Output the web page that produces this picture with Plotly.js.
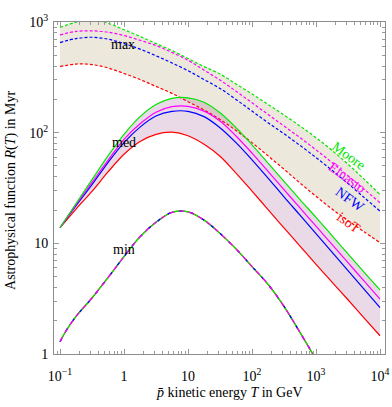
<!DOCTYPE html>
<html>
<head>
<meta charset="utf-8">
<script src="https://cdn.plot.ly/plotly-3.0.1.min.js"></script>
<style>html,body{margin:0;padding:0;background:#fff;}#chart{width:392px;height:407px;}</style>
</head>
<body>
<div id="chart"></div>
<script>
// kinetic energy grid (GeV)
const energy = [0.1, 0.178, 0.316, 0.562, 1, 1.78, 3.16, 5.62, 10, 17.8, 31.6, 56.2, 100, 178, 316, 562, 1000, 1778, 3162, 5623, 10000];
// log10 of R(T) in Myr
// "max" propagation set
const mooreMaxLog   = [2.952, 2.998, 3.025, 2.990, 2.930, 2.870, 2.805, 2.742, 2.670, 2.597, 2.530, 2.440, 2.350, 2.255, 2.160, 2.060, 1.955, 1.840, 1.715, 1.580, 1.441];
const einastoMaxLog = [2.883, 2.915, 2.920, 2.908, 2.878, 2.835, 2.787, 2.725, 2.655, 2.565, 2.475, 2.375, 2.270, 2.165, 2.060, 1.955, 1.845, 1.730, 1.610, 1.490, 1.367];
const nfwMaxLog     = [2.814, 2.850, 2.862, 2.845, 2.805, 2.755, 2.695, 2.630, 2.560, 2.480, 2.400, 2.300, 2.195, 2.090, 1.990, 1.885, 1.775, 1.660, 1.540, 1.415, 1.291];
const isoTMaxLog    = [2.597, 2.620, 2.615, 2.585, 2.535, 2.480, 2.418, 2.355, 2.280, 2.205, 2.120, 2.020, 1.910, 1.790, 1.670, 1.545, 1.425, 1.310, 1.205, 1.105, 1.006];
// "med" propagation set
const mooreMedLog   = [1.141, 1.360, 1.575, 1.790, 1.985, 2.145, 2.255, 2.310, 2.315, 2.275, 2.180, 2.045, 1.890, 1.725, 1.560, 1.395, 1.235, 1.070, 0.905, 0.740, 0.579];
const einastoMedLog = [1.141, 1.350, 1.550, 1.750, 1.940, 2.080, 2.185, 2.235, 2.238, 2.195, 2.105, 1.970, 1.815, 1.650, 1.485, 1.320, 1.155, 0.990, 0.825, 0.660, 0.495];
const nfwMedLog     = [1.141, 1.340, 1.530, 1.730, 1.910, 2.050, 2.150, 2.192, 2.193, 2.145, 2.045, 1.910, 1.755, 1.590, 1.420, 1.255, 1.088, 0.920, 0.753, 0.587, 0.420];
const isoTMedLog    = [1.141, 1.310, 1.470, 1.645, 1.805, 1.920, 1.985, 2.004, 1.972, 1.895, 1.787, 1.635, 1.472, 1.305, 1.140, 0.975, 0.810, 0.650, 0.490, 0.327, 0.165];
// "min" propagation set (all halo profiles coincide)
const energyMin = [0.1, 0.126, 0.178, 0.316, 0.562, 1, 1.78, 3.16, 5.62, 10, 17.8, 31.6, 56.2, 100, 178, 316, 562, 1000];
const allMinLog = [0.111, 0.215, 0.340, 0.506, 0.690, 0.880, 1.060, 1.190, 1.280, 1.285, 1.210, 1.090, 0.950, 0.790, 0.630, 0.430, 0.195, -0.050];

const profiles = ["Moore", "Einasto", "NFW", "isoT"];
const xTickVals = [0.1, 1, 10, 100, 1000, 10000];
const xTickText = ["10<sup>\u22121</sup>", "1", "10", "10<sup>2</sup>", "10<sup>3</sup>", "10<sup>4</sup>"];
const yTickVals = [1, 10, 100, 1000];
const yTickText = ["1", "10", "10<sup>2</sup>", "10<sup>3</sup>"];

const toMyr = arr => arr.map(v => Math.pow(10, v));
const colors = {Moore: "#00e600", Einasto: "#ff00ff", NFW: "#0000ff", isoT: "#ff0000"};
const maxSets = {Moore: toMyr(mooreMaxLog), Einasto: toMyr(einastoMaxLog), NFW: toMyr(nfwMaxLog), isoT: toMyr(isoTMaxLog)};
const medSets = {Moore: toMyr(mooreMedLog), Einasto: toMyr(einastoMedLog), NFW: toMyr(nfwMedLog), isoT: toMyr(isoTMedLog)};
const allMin = toMyr(allMinLog);

const minor = [];
[0.01, 0.1, 1, 10, 100, 1000, 10000].forEach(d => { for (let k = 2; k <= 9; k++) minor.push(d * k); });

const SERIF = "Liberation Serif";
const SP = {shape: "spline", smoothing: 1};
const traces = [];
// bands
traces.push({x: energy, y: maxSets.isoT, mode: "lines", line: Object.assign({width: 0}, SP), hoverinfo: "skip"});
traces.push({x: energy, y: maxSets.Moore, mode: "lines", fill: "tonexty", fillcolor: "rgba(160,140,80,0.2)", line: Object.assign({width: 0}, SP), hoverinfo: "skip"});
traces.push({x: energy, y: medSets.isoT, mode: "lines", line: Object.assign({width: 0}, SP), hoverinfo: "skip"});
traces.push({x: energy, y: medSets.Moore, mode: "lines", fill: "tonexty", fillcolor: "rgba(140,50,120,0.18)", line: Object.assign({width: 0}, SP), hoverinfo: "skip"});
// max dashed lines
profiles.slice().reverse().forEach(p => {
  traces.push({x: energy, y: maxSets[p], mode: "lines", name: p + " max",
    line: Object.assign({color: colors[p], width: 1.2, dash: "3px,2px"}, SP)});
});
// med solid lines
profiles.slice().reverse().forEach(p => {
  traces.push({x: energy, y: medSets[p], mode: "lines", name: p + " med",
    line: Object.assign({color: colors[p], width: 1.2}, SP)});
});
// min lines (overlapping)
traces.push({x: energyMin, y: allMin, mode: "lines", line: Object.assign({color: colors.isoT, width: 1.2}, SP)});
traces.push({x: energyMin, y: allMin, mode: "lines", line: Object.assign({color: colors.Moore, width: 1.3}, SP)});
traces.push({x: energyMin, y: allMin, mode: "lines", line: Object.assign({color: colors.NFW, width: 1.3, dash: "3px,9px"}, SP)});
traces.push({x: energyMin, y: allMin, mode: "lines", line: Object.assign({color: colors.Einasto, width: 1.3, dash: "5px,5px"}, SP)});

const axisCommon = {
  type: "log", showline: true, linecolor: "#8c8c8c", linewidth: 1, mirror: "allticks",
  ticks: "inside", ticklen: 5, tickcolor: "#9a9a9a", tickwidth: 1,
  showgrid: false, zeroline: false, tickmode: "array",
  tickfont: {family: SERIF, size: 14, color: "#000"},
  minor: {ticks: "inside", ticklen: 3, tickcolor: "#9a9a9a", tickmode: "array", tickvals: minor, showgrid: false}
};

const F = (c) => ({family: SERIF, size: 14, color: c || "#000"});
const layout = {
  width: 392, height: 407,
  margin: {l: 54, r: 7, t: 22, b: 53},
  paper_bgcolor: "#fff", plot_bgcolor: "#fff",
  showlegend: false,
  font: F(),
  xaxis: Object.assign({}, axisCommon, {range: [-1.094, 4.078], tickvals: xTickVals, ticktext: xTickText, ticklabelstandoff: 9}),
  yaxis: Object.assign({}, axisCommon, {range: [0, 3], tickvals: yTickVals, ticktext: yTickText, ticklabelstandoff: 2}),
  annotations: [
    {xref: "paper", yref: "paper", x: 0.529, y: -0.1145, text: "<i>p\u0304</i> kinetic energy <i>T</i> in GeV", showarrow: false, font: F(), xanchor: "center", yanchor: "middle"},
    {xref: "paper", yref: "paper", x: -0.13, y: 0.494, text: "Astrophysical function <i>R</i>(<i>T</i>) in Myr", textangle: -90, showarrow: false, font: F(), xanchor: "center", yanchor: "middle"},
    {x: -0.016, y: 2.793, text: "max", showarrow: false, font: F()},
    {x: 0, y: 1.91, text: "med", showarrow: false, font: F()},
    {x: 0, y: 0.946, text: "min", showarrow: false, font: F()},
    {x: 3.505, y: 1.793, text: "Moore", textangle: 36, showarrow: false, font: F(colors.Moore)},
    {x: 3.48, y: 1.592, text: "Einasto", textangle: 36, showarrow: false, font: F(colors.Einasto)},
    {x: 3.53, y: 1.396, text: "NFW", textangle: 36, showarrow: false, font: F(colors.NFW)},
    {x: 3.505, y: 1.186, text: "isoT", textangle: 36, showarrow: false, font: F(colors.isoT)}
  ]
};

Plotly.newPlot("chart", traces, layout, {staticPlot: true, displayModeBar: false});
</script>
</body>
</html>
